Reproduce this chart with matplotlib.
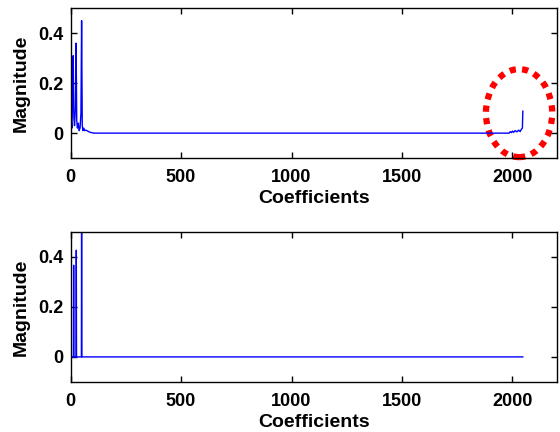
import numpy as np
import matplotlib
matplotlib.use("Agg")
from matplotlib import pyplot as plt
from matplotlib.patches import Ellipse

# 上段: 元の係数 (先頭部分と末尾部分の読み取り値)
top_head_idx = [0, 3, 6, 9, 12, 15, 18, 22, 25, 28, 31, 35, 39, 43, 47, 50, 53, 56, 60, 64, 70, 78, 86, 95, 105]
top_head_val = [0.38, 0.05, 0.02, 0.12, 0.31, 0.06, 0.03, 0.10, 0.36, 0.05, 0.02, 0.04, 0.01, 0.02, 0.08, 0.45,
                0.03, 0.01, 0.02, 0.01, 0.012, 0.008, 0.004, 0.002, 0.0]
top_tail_idx = [1985, 1990, 1995, 2000, 2005, 2012, 2020, 2028, 2035, 2040, 2045, 2047]
top_tail_val = [0.0, 0.006, 0.002, 0.008, 0.003, 0.01, 0.005, 0.012, 0.006, 0.015, 0.02, 0.088]

# 下段: しきい値処理後の係数
n_coef = 2048
bot_spike_idx = [0, 14, 26, 50]
bot_spike_val = [0.55, 0.367, 0.427, 0.52]

x_ticks = [0, 500, 1000, 1500, 2000]
y_ticks = [0, 0.2, 0.4]
y_ticklabels = ["0", "0.2", "0.4"]

plt.rcParams['font.family'] = ['Liberation Sans', 'DejaVu Sans']
plt.rcParams['font.weight'] = 'bold'

fig = plt.figure(figsize=(5.6, 4.32), dpi=100)
ax1 = fig.add_axes([0.126, 0.634, 0.868, 0.347])
ax2 = fig.add_axes([0.126, 0.116, 0.868, 0.347])

x_top = top_head_idx + top_tail_idx
y_top = top_head_val + top_tail_val
ax1.plot(x_top, y_top, color=(0, 0, 1), lw=1.0)

y_bot = np.zeros(n_coef)
y_bot[bot_spike_idx] = bot_spike_val
ax2.plot(np.arange(n_coef), y_bot, color=(0, 0, 1), lw=1.0)

for ax in (ax1, ax2):
    ax.set_xlim(0, 2200)
    ax.set_ylim(-0.1, 0.5)
    ax.set_xticks(x_ticks)
    ax.set_yticks(y_ticks)
    ax.set_yticklabels(y_ticklabels)
    ax.tick_params(direction='in', top=True, right=True, length=4, width=1, labelsize=13)
    ax.tick_params(axis='x', pad=8)
    ax.tick_params(axis='y', pad=5)
    for lab in ax.get_xticklabels() + ax.get_yticklabels():
        lab.set_fontweight('bold')
    for sp in ax.spines.values():
        sp.set_linewidth(1.0)
    ax.set_xlabel("Coefficients", fontsize=14, fontweight='bold', labelpad=3)
    ax.set_ylabel("Magnitude", fontsize=14, fontweight='bold', labelpad=6)

# 赤い点線の楕円 (末尾のスパイクを強調)
ell = Ellipse((2030, 0.08), 300, 0.352, fill=False, edgecolor='red',
              lw=4.5, linestyle=(0, (1, 1)), clip_on=False)
ax1.add_patch(ell)

fig.savefig("out.png", dpi=100)
